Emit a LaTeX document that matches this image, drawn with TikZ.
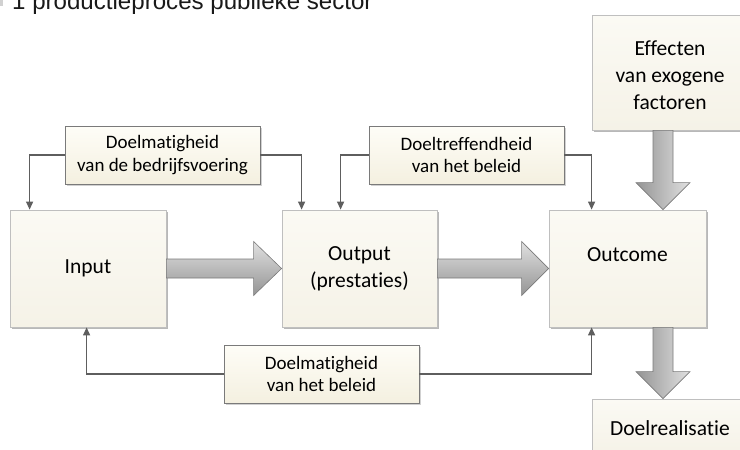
\documentclass[tikz,border=0pt]{standalone}
\usepackage{fontspec}
\setmainfont{Carlito}[Ligatures=CommonOff]
\newfontfamily\titlefont{Liberation Sans}
\usetikzlibrary{arrows.meta,calc,shadows}
\definecolor{bigtop}{HTML}{FBFAF4}
\definecolor{bigbot}{HTML}{F5F2E7}
\definecolor{smalltop}{HTML}{FEFDF7}
\definecolor{smallbot}{HTML}{F4F0E0}
\definecolor{connc}{HTML}{5E5E5E}
\begin{document}
\begin{tikzpicture}[x=1pt,y=-1pt,
  bigbox/.style={draw=black!25, line width=0.8pt, top color=bigtop, bottom color=bigbot,
    drop shadow={shadow xshift=1.5pt,shadow yshift=-1.5pt,fill=black!28,opacity=1},
    align=center, inner sep=0pt, font=\fontsize{21.5}{27}\selectfont},
  smallbox/.style={draw=black!52, line width=0.8pt, top color=smalltop, bottom color=smallbot,
    drop shadow={shadow xshift=1.5pt,shadow yshift=-1.5pt,fill=black!18,opacity=1},
    minimum width=195, minimum height=58,
    align=center, inner sep=0pt, font=\fontsize{19}{22.5}\selectfont},
  conn/.style={draw=connc, line width=1.2pt, -{Triangle[length=8pt,width=7pt]}},
  fat/.style={draw=black!52, line width=0.6pt}]

\useasboundingbox (0,0) rectangle (740,450);
\clip (0,0) rectangle (740,450);

% title (cut off at the top)
\fill[black!18] (0,0) rectangle (3,6);
\node[anchor=base west, inner sep=0pt, font=\titlefont\fontsize{24.1}{28}\selectfont, text=black!90] (title) at (12,9.5) {1 productieproces publieke sector};

% main boxes
\node[bigbox, minimum width=156, minimum height=117] (input) at (88,268.5) {Input};
\node[bigbox, minimum width=155, minimum height=117] (output) at (359.5,268.5) {Output\\(prestaties)};
\node[bigbox, minimum width=157, minimum height=117] (outcome) at (627.5,268.5) {Outcome\\\mbox{}};
\node[bigbox, minimum width=156, minimum height=115] (effect) at (670,72.5) {\rule{0pt}{21pt}Effecten\\van exogene\\factoren};
\node[bigbox, minimum width=156, minimum height=58] (doel) at (670,428) {Doelrealisatie};

% small boxes
\node[smallbox] (dmb) at (162.5,155) {Doelmatigheid\\van de bedrijfsvoering};
\node[smallbox] (dt) at (466.5,155) {Doeltreffendheid\\van het beleid};
\node[smallbox] (dmbl) at (321.5,374) {Doelmatigheid\\van het beleid};

% thin connectors
\draw[conn] (dmb.west) -| ($(input.north west)+(20,0)$);
\draw[conn] (dmb.east) -| ($(output.north west)+(20,0)$);
\draw[conn] (dt.west) -| ($(output.north west)+(59,0)$);
\draw[conn] (dt.east) -| ($(outcome.north west)+(43,0)$);
\draw[conn] (dmbl.west) -| ($(input.south west)+(77,0)$);
\draw[conn] (dmbl.east) -| ($(outcome.south west)+(43,0)$);

% fat horizontal arrows
\path[fat, top color=black!12, bottom color=black!42]
  ($(input.east)+(0,-9.5)$) -- ($(output.west)+(-28,-9.5)$) -- ($(output.west)+(-28,-27)$)
  -- (output.west) -- ($(output.west)+(-28,27)$) -- ($(output.west)+(-28,9.5)$)
  -- ($(input.east)+(0,9.5)$) -- cycle;
\path[fat, top color=black!12, bottom color=black!42]
  ($(output.east)+(0,-9.5)$) -- ($(outcome.west)+(-27,-9.5)$) -- ($(outcome.west)+(-27,-27)$)
  -- (outcome.west) -- ($(outcome.west)+(-27,27)$) -- ($(outcome.west)+(-27,9.5)$)
  -- ($(output.east)+(0,9.5)$) -- cycle;

% fat vertical arrows
\coordinate (vx) at (663,0);
\path[fat, left color=black!42, right color=black!12]
  ($(effect.south -| vx)+(-10,0)$) -- ($(outcome.north -| vx)+(-10,-27)$) -- ($(outcome.north -| vx)+(-27,-27)$)
  -- (outcome.north -| vx) -- ($(outcome.north -| vx)+(27,-27)$) -- ($(outcome.north -| vx)+(10,-27)$)
  -- ($(effect.south -| vx)+(10,0)$) -- cycle;
\path[fat, left color=black!42, right color=black!12]
  ($(outcome.south -| vx)+(-10,0)$) -- ($(doel.north -| vx)+(-10,-27)$) -- ($(doel.north -| vx)+(-27,-27)$)
  -- (doel.north -| vx) -- ($(doel.north -| vx)+(27,-27)$) -- ($(doel.north -| vx)+(10,-27)$)
  -- ($(outcome.south -| vx)+(10,0)$) -- cycle;
\end{tikzpicture}
\end{document}
